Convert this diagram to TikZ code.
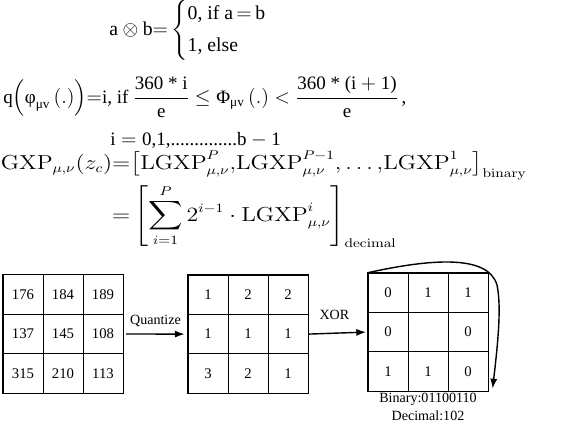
\documentclass[tikz,border=0pt]{standalone}
\usepackage{amsmath}
\usepackage{graphicx}
\usepackage[no-math]{fontspec}
\setmainfont{Liberation Serif}
\usepackage{tikz}
\usetikzlibrary{arrows.meta,positioning}

\tikzset{
  cell/.style={draw, line width=0.6pt, minimum width=1cm, minimum height=0.98cm,
    inner sep=0pt, font=\fontsize{10.5}{12}\selectfont},
  frame/.style={line width=1.1pt},
  flow/.style={-{Latex[length=7pt,width=5pt]}, line width=1pt},
  eqn/.style={inner sep=0pt}
}

\begin{document}
\begin{tikzpicture}[x=0.025cm, y=-0.025cm]
  \clip (0,0) rectangle (568,432);

  % formulas
  \node[eqn, anchor=west, font=\fontsize{14}{16}\selectfont] (xor) at (109,30)
    {$\text{a}\otimes\text{b}{=}\begin{cases}\text{0, if a}{\,=\,}\text{b}\\[3pt] \text{1, else}\end{cases}$};
  \node[eqn, anchor=west, font=\fontsize{13.5}{16}\selectfont] (quant) at (3,97)
    {$\text{q}\Big(\text{φ}_{\text{μv}}\,(.)\Big){=}\text{i, if }\dfrac{\text{360 * i}}{\text{e}}
      \le\text{Φ}_{\text{μv}}\,(.)<\dfrac{\text{360 * (i}+\text{1)}}{\text{e}}\,\text{,}$};
  \node[eqn, anchor=west, font=\fontsize{13.5}{16}\selectfont] (range) at (110,140)
    {$\text{i}=\text{0,1,..............b}-\text{1}$};
  \node[eqn, anchor=north east, font=\fontsize{13.5}{16}\selectfont] (lgxp) at (527,151)
    {\scalebox{1.18}[1]{$\displaystyle\begin{aligned}
      \mathrm{LGXP}_{\mu,\nu}(z_c)&{=}\bigl[\mathrm{LGXP}^P_{\mu,\nu}{,}\mathrm{LGXP}^{P-1}_{\mu,\nu}{,}\ldots{,}\mathrm{LGXP}^1_{\mu,\nu}\bigr]_{\mathrm{binary}}\\
      &{=}\left[\sum_{i=1}^{P}2^{i-1}\cdot\mathrm{LGXP}^i_{\mu,\nu}\right]_{\mathrm{decimal}}
    \end{aligned}$}};

  % input patch
  \foreach \r/\c/\v in {1/1/176,1/2/184,1/3/189,2/1/137,2/2/145,2/3/108,3/1/315,3/2/210,3/3/113}
    \node[cell] (a\r\c) at (-17+40*\c, 255+39.5*\r) {\v};
  \draw[frame] (a11.north west) rectangle (a33.south east);

  % quantized patch
  \foreach \r/\c/\v in {1/1/1,1/2/2,1/3/2,2/1/1,2/2/1,2/3/1,3/1/3,3/2/2,3/3/1}
    \node[cell] (b\r\c) at (168+40*\c, 255.5+39.3*\r) {\v};
  \draw[frame] (b11.north west) rectangle (b33.south east);

  % xor patch
  \foreach \r/\c/\v in {1/1/0,1/2/1,1/3/1,2/1/0,2/2/{},2/3/0,3/1/1,3/2/1,3/3/0}
    \node[cell] (c\r\c) at (348+40*\c, 253.5+39.3*\r) {\v};
  \draw[frame] (c11.north west) rectangle (c33.south east);

  \draw[flow] ([xshift=2pt]a23.east) -- ([xshift=-2pt]b21.west)
    node[midway, above=1pt, font=\fontsize{10}{12}\selectfont] (qlab) {Quantize};
  \draw[flow] (b23.east) -- ([xshift=-1pt]c21.west)
    node[pos=0.45, above=6pt, font=\fontsize{10}{12}\selectfont] (xlab) {XOR};

  \draw[flow] (c11.north west) .. controls (430,259) and (488,254) .. (497,285)
    .. controls (502,308) and (497,350) .. ([xshift=3pt,yshift=2pt]c33.south east);

  \node[below=1pt of c32.south, align=center, inner sep=0pt,
    font=\fontsize{10}{12.5}\selectfont] (code) {Binary:01100110\\Decimal:102};
\end{tikzpicture}
\end{document}
